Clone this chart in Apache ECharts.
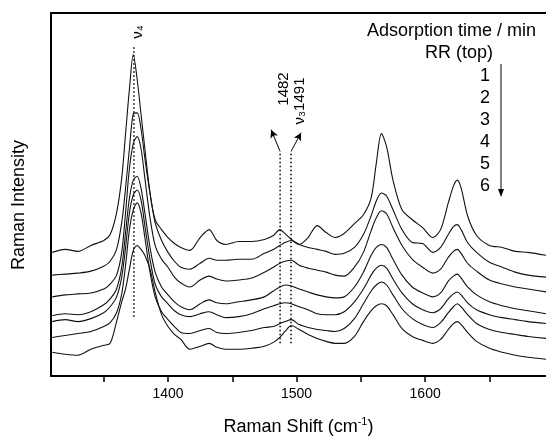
<!DOCTYPE html>
<html><head><meta charset="utf-8">
<script src="https://cdn.jsdelivr.net/npm/echarts@6/dist/echarts.min.js"></script>
<style>html,body{margin:0;padding:0;background:#fff}#c{width:546px;height:441px}</style>
</head><body><div id="c"></div>
<script>
// Raman shift positions (cm-1) shared by all spectra
const shifts = [
  1310,1320,1330,1340,1350,1355,1360,1364,1367,1370,
  1373,1376,1379,1382,1386,1390,1395,1400,1405,1410,
  1417,1425,1432,1438,1445,1455,1465,1475,1482,1487,
  1491,1496,1502,1509,1516,1523,1530,1537,1545,1552,
  1558,1562,1566,1570,1575,1582,1590,1598,1606,1612,
  1618,1622,1625,1628,1633,1640,1650,1660,1670,1680,
  1694
];
// Intensities (arbitrary units, offset stacked as in the figure)
const specRR = [
  125,128,126,132,137,143,165,200,245,290,
  325,300,265,230,185,158,148,140,134,130,
  127,140,148,137,133,136,136,138,142,148,
  144,138,133,140,152,145,140,144,154,163,
  180,215,245,232,198,168,158,150,140,148,
  175,192,198,190,162,142,132,130,126,125,
  122
];
const spec1 = [
  102,103,104,106,111,116,128,155,190,230,
  265,266,250,220,185,155,137,125,116,110,
  108,114,119,117,117,118,118,124,128,132,
  135,137,133,130,128,126,123,124,130,143,
  162,177,185,182,168,148,135,134,125,130,
  143,151,153,148,135,125,115,110,105,102,
  100
];
const spec2 = [
  80,82,83,84,88,93,102,125,165,210,
  235,242,230,200,160,132,118,110,100,94,
  90,97,101,98,96,97,99,105,110,114,
  116,117,112,109,107,105,102,101,110,125,
  147,160,167,164,150,132,118,110,104,108,
  120,126,128,124,114,106,97,93,90,88,
  85
];
const spec3 = [
  61,63,62,65,72,78,88,110,145,180,
  198,202,190,165,130,105,90,82,75,70,
  67,73,77,74,73,75,77,80,86,90,
  92,91,88,85,82,80,79,80,90,105,
  122,130,133,130,118,102,90,84,80,84,
  96,101,103,99,90,82,75,71,68,66,
  63
];
const spec4 = [
  55,57,55,58,64,70,80,100,130,165,
  183,188,178,152,118,93,80,73,66,62,
  60,63,65,62,59,60,63,68,71,73,
  74,73,70,67,63,62,62,65,75,88,
  102,109,112,109,98,84,73,67,64,68,
  78,83,85,82,74,67,62,59,57,55,
  53
];
const spec5 = [
  39,41,43,45,50,54,64,83,112,148,
  168,175,165,140,105,80,65,57,50,44,
  43,46,48,44,43,44,46,49,50,53,
  55,57,52,49,47,46,45,48,58,73,
  86,92,95,92,82,68,58,52,49,54,
  64,70,73,70,62,53,47,44,42,40,
  38
];
const spec6 = [
  24,22,21,27,31,33,55,75,88,108,
  127,132,128,122,108,85,62,50,42,37,
  27,30,33,29,27,27,28,30,34,39,
  45,51,47,42,38,35,33,33,40,55,
  66,71,73,71,62,48,40,36,33,37,
  47,53,55,52,44,35,28,24,21,19,
  17
];
const xLabelValues = [1400, 1500, 1600];
const xTickValues = [1350, 1400, 1450, 1500, 1550, 1600, 1650];
const legendItems = ['1', '2', '3', '4', '5', '6'];
// marker positions (cm-1)
const nu4Pos = 1373.5;
const band1482Pos = 1487.2;
const band1491Pos = 1495.7;

const FONT = '"Liberation Sans", Arial, Helvetica, "DejaVu Sans", sans-serif';
const chart = echarts.init(document.getElementById('c'), null, {renderer: 'canvas'});

const spectra = [specRR, spec1, spec2, spec3, spec4, spec5, spec6];
const series = spectra.map((ys, i) => ({
  type: 'line', name: 'S' + i,
  data: shifts.map((x, j) => [x, ys[j]]),
  showSymbol: false, smooth: 0.3, silent: true,
  lineStyle: {color: '#111', width: 1.1}, z: 3
}));
const dotStyle = {color: '#000', width: 1.5, type: [1.5, 2.5]};
series.push({
  type: 'line', data: [[nu4Pos, 60], [nu4Pos, 335]], showSymbol: false, silent: true,
  lineStyle: dotStyle, z: 2
});
series.push({
  type: 'line', data: [[band1482Pos, 33], [band1482Pos, 227]], showSymbol: false, silent: true,
  lineStyle: dotStyle, z: 2
});
series.push({
  type: 'line', data: [[band1491Pos, 33], [band1491Pos, 227]], showSymbol: false, silent: true,
  lineStyle: dotStyle, z: 2,
  markLine: {
    silent: true, symbol: ['none', 'arrow'], symbolSize: [6, 8], animation: false,
    label: {show: false},
    lineStyle: {type: 'solid', color: '#000', width: 1},
    data: [
      [{coord: [band1482Pos, 227]}, {coord: [1480.2, 249]}],
      [{coord: [band1491Pos, 227]}, {coord: [1503.5, 246]}]
    ]
  }
});

const graphics = [
  {type: 'text', x: 19, y: 205, rotation: Math.PI / 2,
   style: {text: 'Raman Intensity', fontSize: 18, fontFamily: FONT, fill: '#000', align: 'center', verticalAlign: 'middle'}},
  {type: 'text', x: 536, y: 31,
   style: {text: 'Adsorption time / min', fontSize: 18, fontFamily: FONT, fill: '#000', align: 'right', verticalAlign: 'middle'}},
  {type: 'text', x: 459, y: 53,
   style: {text: 'RR (top)', fontSize: 18, fontFamily: FONT, fill: '#000', align: 'center', verticalAlign: 'middle'}},
  {type: 'text', x: 138, y: 32, rotation: Math.PI / 2,
   style: {text: 'ν₄', fontSize: 15, fontFamily: FONT, fill: '#000', align: 'center', verticalAlign: 'middle'}},
  {type: 'text', x: 284, y: 89, rotation: Math.PI / 2,
   style: {text: '1482', fontSize: 15, fontFamily: FONT, fill: '#000', align: 'center', verticalAlign: 'middle'}},
  {type: 'text', x: 300, y: 101, rotation: Math.PI / 2,
   style: {text: 'ν₃1491', fontSize: 15, fontFamily: FONT, fill: '#000', align: 'center', verticalAlign: 'middle'}},
  {type: 'line', shape: {x1: 501, y1: 64, x2: 501, y2: 190}, style: {stroke: '#000', lineWidth: 1}},
  {type: 'polygon', shape: {points: [[498, 189], [504, 189], [501, 197]]}, style: {fill: '#000'}}
];
legendItems.forEach((t, i) => {
  graphics.push({type: 'text', x: 490, y: 76 + 22 * i,
    style: {text: t, fontSize: 18, fontFamily: FONT, fill: '#000', align: 'right', verticalAlign: 'middle'}});
});

chart.setOption({
  animation: false,
  backgroundColor: '#fff',
  grid: {left: 51, right: 0, top: 13, bottom: 61, containLabel: false},
  xAxis: [{
    type: 'value', min: 1309, max: 1694, position: 'bottom',
    axisLine: {show: true, onZero: false, lineStyle: {color: '#000', width: 2}},
    axisTick: {show: true, inside: false, length: 6, customValues: xTickValues, lineStyle: {color: '#000', width: 1.5}},
    axisLabel: {customValues: xLabelValues, color: '#000', fontSize: 14, fontFamily: FONT, margin: 11,
      formatter: function (v) { return String(Math.round(v)); }},
    splitLine: {show: false},
    name: '{t|Raman Shift (cm}{s|-1}{t|)}',
    nameLocation: 'middle', nameGap: 40,
    nameTextStyle: {
      rich: {
        t: {fontSize: 18, fontFamily: FONT, color: '#000', lineHeight: 22},
        s: {fontSize: 11, fontFamily: FONT, color: '#000', lineHeight: 12, verticalAlign: 'top'}
      }
    }
  }, {
    type: 'value', min: 1309, max: 1694, position: 'top',
    axisLine: {show: true, onZero: false, lineStyle: {color: '#000', width: 2}},
    axisTick: {show: false}, axisLabel: {show: false}, splitLine: {show: false}
  }],
  yAxis: {
    type: 'value', min: 0, max: 367,
    axisLine: {show: true, onZero: false, lineStyle: {color: '#000', width: 2}},
    axisTick: {show: false}, axisLabel: {show: false}, splitLine: {show: false}
  },
  series: series,
  graphic: graphics
});
</script>
</body></html>
